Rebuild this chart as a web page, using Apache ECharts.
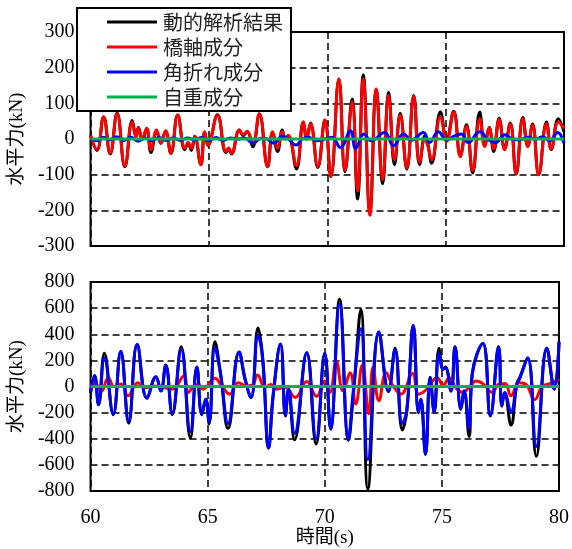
<!DOCTYPE html>
<html><head><meta charset="utf-8">
<script src="https://cdn.jsdelivr.net/npm/echarts@6/dist/echarts.min.js"></script>
<style>html,body{margin:0;padding:0;background:#fff}#c{width:572px;height:549px}</style>
</head><body><div id="c"></div>
<script>
// ---- labels ----
const seriesNames = ['動的解析結果', '橋軸成分', '角折れ成分', '自重成分'];
const xTicks = [60, 65, 70, 75, 80];
const topYTicks = [-300, -200, -100, 0, 100, 200, 300];
const botYTicks = [-800, -600, -400, -200, 0, 200, 400, 600, 800];

// ---- top panel: total & bridge-axis component (same time stamps) ----
const topT = [60.00,60.27,60.55,60.83,61.12,61.45,61.76,61.92,62.02,62.18,62.37,62.55,62.79,62.97,63.17,63.39,63.68,63.98,64.12,64.26,64.40,64.66,64.82,64.96,65.36,65.72,65.83,65.95,66.29,66.45,66.62,66.85,67.13,67.48,67.69,67.90,68.10,68.22,68.35,68.70,68.99,69.13,69.29,69.60,69.90,70.15,70.49,70.75,71.05,71.28,71.52,71.80,72.07,72.34,72.59,72.84,73.08,73.36,73.65,73.90,74.13,74.25,74.41,74.78,75.04,75.34,75.62,75.88,76.14,76.44,76.65,76.84,77.03,77.26,77.49,77.73,77.98,78.26,78.47,78.67,78.93,79.26,79.46,79.76,80.00];
const topTotal = [10,-32,62,-42,73,-78,52,8,32,-2,28,-38,22,-12,22,-40,67,-30,-12,-32,8,-72,18,-18,68,-38,-28,-42,25,10,20,-22,70,-78,18,-35,25,0,10,-84,48,0,45,-80,53,-105,168,-92,112,-168,180,-205,138,-125,131,-72,72,-85,122,-72,10,-15,-68,76,-2,78,-45,40,-95,76,-18,32,-35,58,-25,45,-98,60,-20,42,-100,48,-30,57,20];
const topAxial = [10,-29,62,-40,71,-76,48,5,30,0,30,-30,25,-12,23,-40,67,-26,-10,-26,8,-72,20,-17,66,-35,-25,-40,25,12,22,-12,71,-77,20,-26,20,0,10,-75,48,0,43,-77,53,-105,168,-88,104,-146,168,-214,141,-114,122,-58,67,-81,120,-65,2,-20,-58,62,-7,76,-50,35,-88,57,-21,30,-28,55,-30,43,-97,57,-21,39,-100,43,-28,48,30];

// ---- top panel: rotation component ----
const topRotT = [60.0,60.3,60.55,60.8,61.1,61.4,61.7,62.0,62.3,62.6,62.9,63.2,63.5,63.8,64.1,64.4,64.7,65.0,65.3,65.6,65.9,66.2,66.5,66.87,67.2,67.45,67.75,68.1,68.35,68.68,68.95,69.2,69.55,69.9,70.2,70.55,70.98,71.2,71.55,71.85,72.42,72.8,73.22,73.55,74.06,74.32,74.69,75.05,75.35,75.67,75.95,76.44,76.8,77.1,77.5,77.8,78.1,78.45,78.8,79.1,79.4,79.73,80.0];
const topRot = [0,-5,5,-3,6,-4,5,-6,3,-5,4,-4,3,-4,3,-3,4,-5,4,-4,3,0,3,-12,2,0,-12,8,0,-17,0,5,-5,0,5,-24,23,-26,14,-5,18,-19,14,-3,18,-10,20,-3,8,14,-10,20,-2,-10,12,0,-3,5,0,6,-5,18,-12];

// ---- self-weight component (both panels) ----
const gravT = [60, 65, 70, 75, 80];
const topGrav = [0, 0, 0, 0, 0];
const botGrav = [0, 0, 0, 0, 0];

// ---- bottom panel: total & rotation component (same time stamps) ----
const botT = [60.00,60.17,60.34,60.59,60.97,61.29,61.63,61.99,62.41,62.79,63.00,63.21,63.49,63.87,64.26,64.54,64.75,64.92,65.06,65.31,65.55,65.87,66.34,66.60,66.85,67.15,67.35,67.60,67.80,68.11,68.32,68.45,68.71,69.23,69.63,70.00,70.25,70.63,71.01,71.22,71.54,71.84,72.31,72.72,73.00,73.31,73.50,73.78,74.00,74.10,74.30,74.50,74.67,74.88,75.05,75.15,75.39,75.56,75.81,75.95,76.16,76.30,76.75,77.07,77.42,77.56,77.68,77.95,78.20,78.32,78.66,79.03,79.48,79.80,80.00];
const botTotal = [-50,85,-140,255,-215,270,-280,320,-90,75,-35,165,-215,305,-395,150,-215,-100,-285,343,100,-320,265,55,-85,448,215,-470,-60,325,-225,-25,-408,260,-440,255,-325,668,-410,-60,588,-783,418,-40,293,-333,-190,468,-200,-100,-520,72,-195,293,135,150,-35,305,-175,-40,-383,105,330,-225,305,-150,-50,-295,20,68,218,-533,293,-20,343];
const botRot = [-45,80,-133,218,-208,268,-263,323,-88,73,-33,163,-203,280,-345,148,-208,-95,-270,295,95,-283,263,55,-83,390,205,-470,-60,323,-220,-20,-358,255,-400,255,-320,630,-400,-30,443,-558,418,-30,280,-283,-183,468,-195,-95,-515,70,-195,255,130,143,-33,305,-170,-33,-320,100,330,-220,305,-145,-45,-195,18,60,218,-458,293,-20,343];

// ---- bottom panel: bridge-axis component ----
const botAxT = [60.00,60.20,60.45,60.76,61.00,61.30,61.60,62.02,62.35,62.70,63.10,63.50,63.98,64.18,64.40,64.60,64.80,65.31,65.60,65.94,66.30,66.65,66.90,67.13,67.45,67.70,67.95,68.30,68.74,69.23,69.65,70.00,70.22,70.49,70.78,71.08,71.32,71.60,71.88,72.06,72.31,72.62,72.90,73.25,73.75,74.00,74.30,74.50,74.80,75.05,75.32,75.60,75.88,76.15,76.47,76.80,77.14,77.45,77.70,77.95,78.30,78.60,78.96,79.30,79.55,80.00];
const botAxial = [10,25,-40,68,0,20,-70,30,-10,5,-5,-20,80,-45,5,18,-20,63,5,-58,30,5,10,88,-5,15,-20,-5,-83,38,-75,43,-45,193,-33,105,-133,163,-208,148,-108,105,10,-58,100,-58,-30,20,68,10,68,-10,-45,-10,43,15,-45,20,23,-70,30,15,-100,5,18,55];

const pair = (t, v) => t.map((x, i) => [x, v[i]]);
const colors = ['#000000', '#ff0000', '#0000ff', '#00b050'];
const serif = "'Liberation Serif', 'Noto Sans CJK JP'";

function ln(name, data, color, gi) {
  return {
    type: 'line', name, data, xAxisIndex: gi, yAxisIndex: gi,
    showSymbol: false, symbol: 'none', smooth: 0.45,
    lineStyle: { color, width: 3 }, itemStyle: { color }, animation: false
  };
}

const dashed = { show: true, lineStyle: { color: '#000', width: 1.5, type: [7, 4] } };

function xAx(gi, showLabels) {
  return {
    type: 'value', gridIndex: gi, min: xTicks[0], max: xTicks[xTicks.length - 1], interval: 5,
    axisLine: { show: false }, axisTick: { show: false }, splitLine: dashed,
    axisLabel: { show: showLabels, color: '#000', fontFamily: serif, fontSize: 20, margin: 17 },
    name: showLabels ? '時間(s)' : '', nameLocation: 'middle', nameGap: 34,
    nameTextStyle: { color: '#000', fontFamily: serif, fontSize: 19 }
  };
}
function yAx(gi, ticks) {
  return {
    type: 'value', gridIndex: gi, min: ticks[0], max: ticks[ticks.length - 1], interval: ticks[1] - ticks[0],
    axisLine: { show: false }, axisTick: { show: false }, splitLine: dashed,
    axisLabel: { color: '#000', fontFamily: serif, fontSize: 20, margin: 16 },
    name: '水平力(kN)', nameLocation: 'middle', nameGap: 58, nameRotate: 90,
    nameTextStyle: { color: '#000', fontFamily: serif, fontSize: 19 }
  };
}

const chart = echarts.init(document.getElementById('c'), null, { renderer: 'canvas' });
chart.setOption({
  backgroundColor: '#fff',
  animation: false,
  grid: [
    { left: 87, top: 32, width: 477, height: 214, show: true, borderColor: '#000', borderWidth: 2, backgroundColor: 'transparent' },
    { left: 87, top: 282, width: 477, height: 214, show: true, borderColor: '#000', borderWidth: 2, backgroundColor: 'transparent' }
  ],
  xAxis: [xAx(0, false), xAx(1, true)],
  yAxis: [yAx(0, topYTicks), yAx(1, botYTicks)],
  legend: {
    data: seriesNames, orient: 'vertical', left: 77, top: 8,
    padding: [4, 8, 4, 30], itemGap: 5, itemWidth: 50, itemHeight: 3, icon: 'rect',
    backgroundColor: '#fff', borderColor: '#000', borderWidth: 2, borderRadius: 0,
    textStyle: { color: '#222', fontFamily: "'Noto Sans CJK JP'", fontSize: 20, padding: [0, 0, 0, 1] },
    selectedMode: false, z: 10
  },
  series: [
    ln(seriesNames[0], pair(topT, topTotal), colors[0], 0),
    ln(seriesNames[1], pair(topT, topAxial), colors[1], 0),
    ln(seriesNames[2], pair(topRotT, topRot), colors[2], 0),
    ln(seriesNames[3], pair(gravT, topGrav), colors[3], 0),
    ln(seriesNames[0], pair(botT, botTotal), colors[0], 1),
    ln(seriesNames[1], pair(botAxT, botAxial), colors[1], 1),
    ln(seriesNames[2], pair(botT, botRot), colors[2], 1),
    ln(seriesNames[3], pair(gravT, botGrav), colors[3], 1)
  ]
});
</script>
</body></html>
